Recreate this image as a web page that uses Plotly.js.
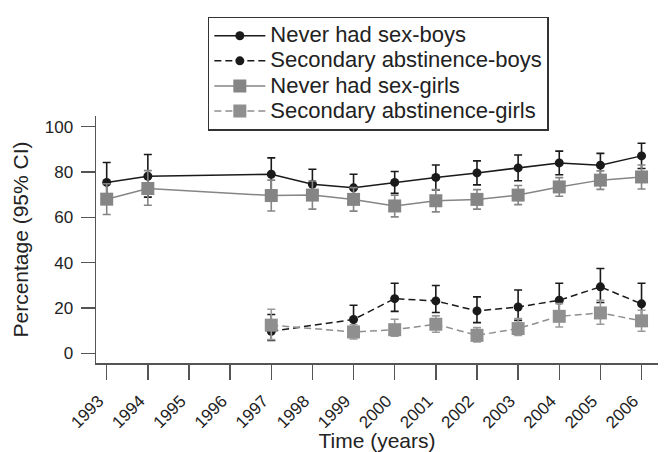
<!DOCTYPE html>
<html>
<head>
<meta charset="utf-8">
<script src="https://cdn.plot.ly/plotly-3.0.1.min.js"></script>
<style>html,body{margin:0;padding:0;background:#fff;}#chart{width:664px;height:452px;}</style>
</head>
<body>
<div id="chart"></div>
<script>
// Data
var yearsAll = [1993, 1994, 1997, 1998, 1999, 2000, 2001, 2002, 2003, 2004, 2005, 2006];
var yearsSec = [1997, 1999, 2000, 2001, 2002, 2003, 2004, 2005, 2006];

var neverBoys      = [75.4, 78.1, 79.0, 74.6, 73.0, 75.4, 77.6, 79.6, 81.8, 84.0, 83.0, 87.1];
var neverBoysUpper = [84.2, 87.7, 86.2, 81.2, 79.0, 80.2, 83.1, 84.9, 87.5, 89.2, 88.2, 92.7];
var neverBoysLower = [66.8, 68.9, 71.8, 68.0, 67.0, 70.6, 72.1, 74.3, 76.1, 78.8, 77.8, 81.5];

var secBoys      = [9.7, 14.9, 24.1, 23.1, 18.7, 20.4, 23.4, 29.3, 21.8];
var secBoysUpper = [17.1, 21.2, 30.9, 29.9, 24.9, 27.9, 30.9, 37.4, 30.9];
var secBoysLower = [5.6, 9.5, 18.5, 18.0, 13.5, 14.5, 17.0, 22.4, 15.5];

var neverGirls      = [68.0, 72.7, 69.6, 69.8, 67.9, 65.0, 67.3, 67.9, 69.8, 73.4, 76.4, 77.8];
var neverGirlsUpper = [74.8, 80.6, 76.4, 76.0, 73.1, 69.8, 72.2, 72.2, 74.0, 77.5, 80.5, 83.1];
var neverGirlsLower = [61.2, 65.3, 62.8, 63.6, 62.7, 60.2, 62.4, 63.6, 65.6, 69.3, 72.3, 72.5];

var secGirls      = [12.4, 9.4, 10.4, 12.8, 7.9, 10.9, 16.3, 17.8, 14.3];
var secGirlsUpper = [19.4, 12.6, 15.0, 16.5, 11.3, 15.3, 21.9, 23.4, 19.0];
var secGirlsLower = [6.0, 6.3, 7.5, 9.3, 5.0, 7.9, 11.6, 12.8, 9.7];

var seriesNames = ["Never had sex-boys", "Secondary abstinence-boys", "Never had sex-girls", "Secondary abstinence-girls"];
var xTickVals = [1993,1994,1995,1996,1997,1998,1999,2000,2001,2002,2003,2004,2005,2006];
var xTickText = xTickVals.map(String);
var yTickVals = [0, 20, 40, 60, 80, 100];

function diff(a, b) { return a.map(function (v, i) { return +(v - b[i]).toFixed(2); }); }

function makeTrace(name, x, y, up, lo, color, dash, symbol, size, errColor) {
  return {
    type: 'scatter', mode: 'lines+markers',
    name: '<span style="font-size:22px">' + name + '</span>',
    x: x, y: y,
    line: {color: color, width: 1.5, dash: dash},
    marker: {color: color, symbol: symbol, size: size, line: {width: 0}},
    error_y: {type: 'data', symmetric: false, array: diff(up, y), arrayminus: diff(y, lo),
              color: errColor, thickness: 1.6, width: 4},
    cliponaxis: false
  };
}

var traces = [
  makeTrace(seriesNames[0], yearsAll, neverBoys, neverBoysUpper, neverBoysLower, '#1a1a1a', 'solid', 'circle', 9, '#1a1a1a'),
  makeTrace(seriesNames[1], yearsSec, secBoys, secBoysUpper, secBoysLower, '#1a1a1a', '7px,4px', 'circle', 9, '#1a1a1a'),
  makeTrace(seriesNames[2], yearsAll, neverGirls, neverGirlsUpper, neverGirlsLower, '#858585', 'solid', 'square', 13, '#858585'),
  makeTrace(seriesNames[3], yearsSec, secGirls, secGirlsUpper, secGirlsLower, '#8f8f8f', '7px,4px', 'square', 13, '#9a9a9a')
];

var font = {family: '"Liberation Sans", Arial, sans-serif', color: '#222', size: 17};

var layout = {
  width: 664, height: 452,
  margin: {l: 96, r: 6, t: 116, b: 89, pad: 0},
  paper_bgcolor: '#fff', plot_bgcolor: '#fff',
  font: font,
  showlegend: true,
  legend: {
    x: 0.199, y: 1.402, xanchor: 'left', yanchor: 'top',
    bgcolor: '#fff', bordercolor: '#333', borderwidth: 1.5,
    font: {family: font.family, size: 17, color: '#222'},
    itemwidth: 51, tracegroupgap: 0
  },
  xaxis: {
    range: [1992.74, 2006.4],
    tickvals: xTickVals, ticktext: xTickText, tickangle: -45,
    ticks: 'outside', ticklen: 15, tickwidth: 1.5, tickcolor: '#555',
    showline: true, linecolor: '#555', linewidth: 1.5,
    showgrid: false, zeroline: false,
    tickfont: {size: 17},
    ticklabelstandoff: 5, ticklabelshift: -8,
    title: {text: 'Time (years)', font: {size: 21}, standoff: 5}
  },
  yaxis: {
    range: [-4.3, 104.7],
    tickvals: yTickVals,
    ticks: 'outside', ticklen: 14, tickwidth: 1.5, tickcolor: '#555',
    showline: true, linecolor: '#555', linewidth: 1.5,
    showgrid: false, zeroline: false,
    tickfont: {size: 17},
    ticklabelstandoff: 4,
    title: {text: 'Percentage (95% CI)', font: {size: 21}, standoff: 10}
  }
};

Plotly.newPlot('chart', traces, layout, {staticPlot: true});
</script>
</body>
</html>
